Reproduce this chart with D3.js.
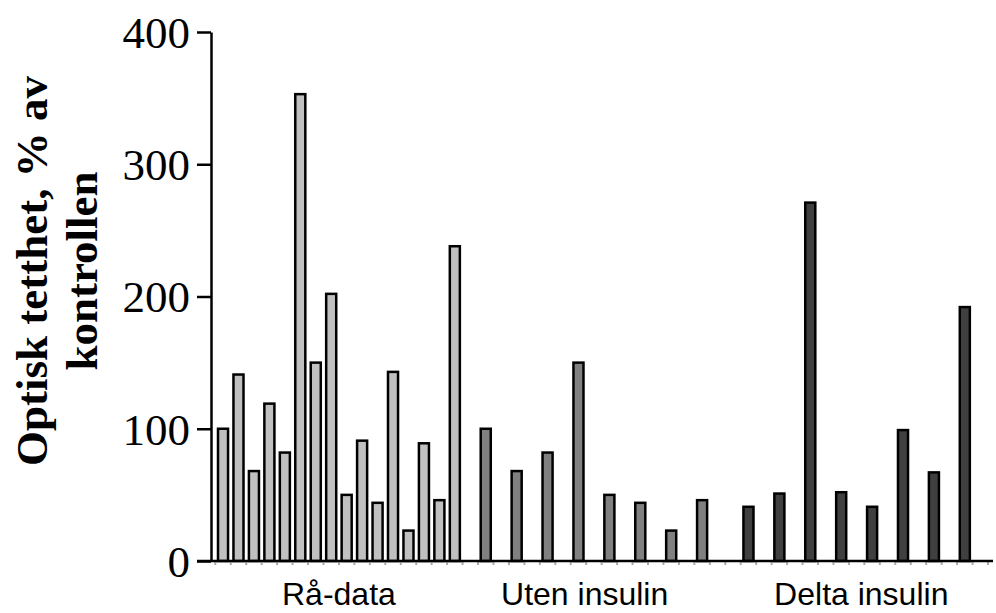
<!DOCTYPE html>
<html lang="no">
<head>
<meta charset="UTF-8">
<title>Optisk tetthet</title>
<script src="https://cdn.jsdelivr.net/npm/d3@7"></script>
<style>
  body { margin: 0; background: #fff; }
  #yAxis text { font-family: 'Liberation Serif', 'Times New Roman', serif; font-size: 45px; fill: #000; }
  .grpLabel { font-family: 'Liberation Sans', Arial, sans-serif; font-size: 32px; fill: #000; }
  .yTitle { font-family: 'Liberation Serif', 'Times New Roman', serif; font-size: 45px; font-weight: bold; fill: #000; }
</style>
</head>
<body>
<svg id="chart" width="996" height="613"></svg>
<script>
// data
const groups = ["Rå-data", "Uten insulin", "Delta insulin"]
const raData = [100, 141, 68, 119, 82, 353, 150, 202, 50, 91, 44, 143, 23, 89, 46, 238]
const utenInsulin = [100, 68, 82, 150, 50, 44, 23, 46]
const deltaInsulin = [41, 51, 271, 52, 41, 99, 67, 192]
const yTicks = [0, 100, 200, 300, 400]
const yTitle = ["Optisk tetthet, % av", "kontrollen"]

const colors = ["#c0c0c0", "#808080", "#404040"]

let svg = d3.select("#chart")

// one slot per bar position, groups 2 and 3 use every other slot
let slots = []
raData.forEach((v, i) => slots.push({ g: 0, slot: i, value: v }))
utenInsulin.forEach((v, i) => slots.push({ g: 1, slot: 17 + 2 * i, value: v }))
deltaInsulin.forEach((v, i) => slots.push({ g: 2, slot: 34 + 2 * i, value: v }))

let x = d3.scaleBand()
    .domain(d3.range(50))
    .range([215.3, 988])
    .paddingInner(0.35)
    .paddingOuter(0.175)

let y = d3.scaleLinear()
    .domain([0, 400])
    .range([561, 32])

// faint slot marks under the axis
svg.append("g")
    .selectAll("line")
    .data(d3.range(51))
    .join("line")
    .attr("x1", d => 215.3 + d * x.step())
    .attr("x2", d => 215.3 + d * x.step())
    .attr("y1", y(0) + 1)
    .attr("y2", y(0) + 4)
    .attr("stroke", "#aaa")
    .attr("stroke-width", 2)

svg.append("g")
    .selectAll("rect")
    .data(slots)
    .join("rect")
    .attr("x", d => x(d.slot))
    .attr("width", x.bandwidth())
    .attr("y", d => y(d.value))
    .attr("height", d => y(0) - y(d.value))
    .attr("fill", d => colors[d.g])
    .attr("stroke", "#000")
    .attr("stroke-width", 2.5)

// x axis line
svg.append("line")
    .attr("x1", 197).attr("x2", 993)
    .attr("y1", y(0)).attr("y2", y(0))
    .attr("stroke", "#000")
    .attr("stroke-width", 2.5)

let yAxis = d3.axisLeft(y)
    .tickValues(yTicks)
    .tickSize(14)
    .tickSizeOuter(0)
    .tickPadding(7)

let yG = svg.append("g")
    .attr("id", "yAxis")
    .attr("transform", "translate(211,0)")
    .call(yAxis)
yG.selectAll("path, line").attr("stroke", "#000").attr("stroke-width", 2.5)
yG.selectAll("text").attr("dy", "0.34em")
yG.attr("font-family", null).attr("font-size", null)

// group labels
const labelSlot = [7.5, 23.4, 41.3]
svg.append("g")
    .selectAll("text")
    .data(groups)
    .join("text")
    .attr("class", "grpLabel")
    .attr("x", (d, i) => x(0) + x.bandwidth() / 2 + labelSlot[i] * x.step())
    .attr("y", 605)
    .attr("text-anchor", "middle")
    .text(d => d)

// y title
svg.append("g")
    .selectAll("text")
    .data(yTitle)
    .join("text")
    .attr("class", "yTitle")
    .attr("text-anchor", "middle")
    .attr("transform", (d, i) => `translate(${46.5 + i * 50.5},271) rotate(-90)`)
    .text(d => d)
</script>
</body>
</html>
